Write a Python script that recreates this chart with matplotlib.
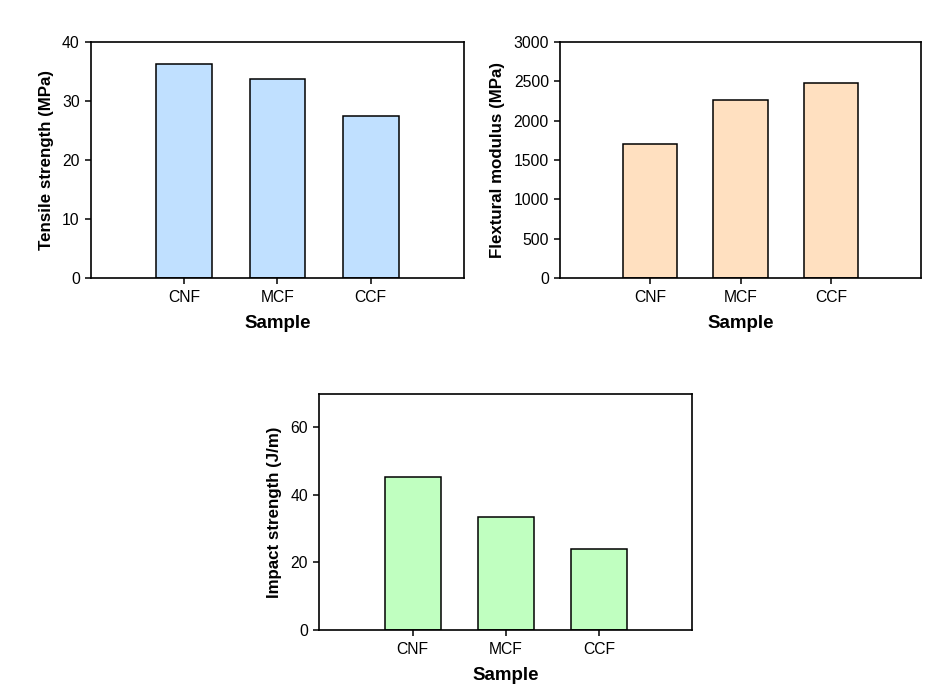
import matplotlib.pyplot as plt
import numpy as np

plt.rcParams['font.family'] = ['Liberation Sans', 'DejaVu Sans']

samples = ['CNF', 'MCF', 'CCF']
tensile = [36.2, 33.7, 27.4]
flexural = [1703, 2263, 2479]
impact = [45.2, 33.4, 23.9]

x = np.arange(1, len(samples) + 1)

fig = plt.figure(figsize=(9.37, 6.91), dpi=100)
ax1 = fig.add_axes([0.0971, 0.5977, 0.3981, 0.3415])
ax2 = fig.add_axes([0.5977, 0.5977, 0.3853, 0.3415])
ax3 = fig.add_axes([0.3408, 0.0883, 0.3981, 0.3420])


def draw(ax, vals, color, ylabel, ylim, yticks):
    ax.bar(x, vals, width=0.6, color=color, edgecolor='black', linewidth=1.1, zorder=2)
    ax.set_xlim(0, 4)
    ax.set_ylim(*ylim)
    ax.set_xticks(x)
    ax.set_xticklabels(samples)
    ax.set_yticks(yticks)
    ax.tick_params(direction='out', length=4, width=1.1, labelsize=11.3, pad=5, colors='black')
    ax.tick_params(axis='y', pad=4)
    ax.set_xlabel('Sample', fontsize=13.5, fontweight='bold', labelpad=7)
    ax.set_ylabel(ylabel, fontsize=12.2, fontweight='bold', labelpad=6)
    for s in ax.spines.values():
        s.set_linewidth(1.2)


draw(ax1, tensile, '#C0E0FF', 'Tensile strength (MPa)', (0, 40), [0, 10, 20, 30, 40])
draw(ax2, flexural, '#FFE0C0', 'Flextural modulus (MPa)', (0, 3000), [0, 500, 1000, 1500, 2000, 2500, 3000])
draw(ax3, impact, '#C0FFC0', 'Impact strength (J/m)', (0, 70), [0, 20, 40, 60])

plt.savefig('out.png', dpi=100)
